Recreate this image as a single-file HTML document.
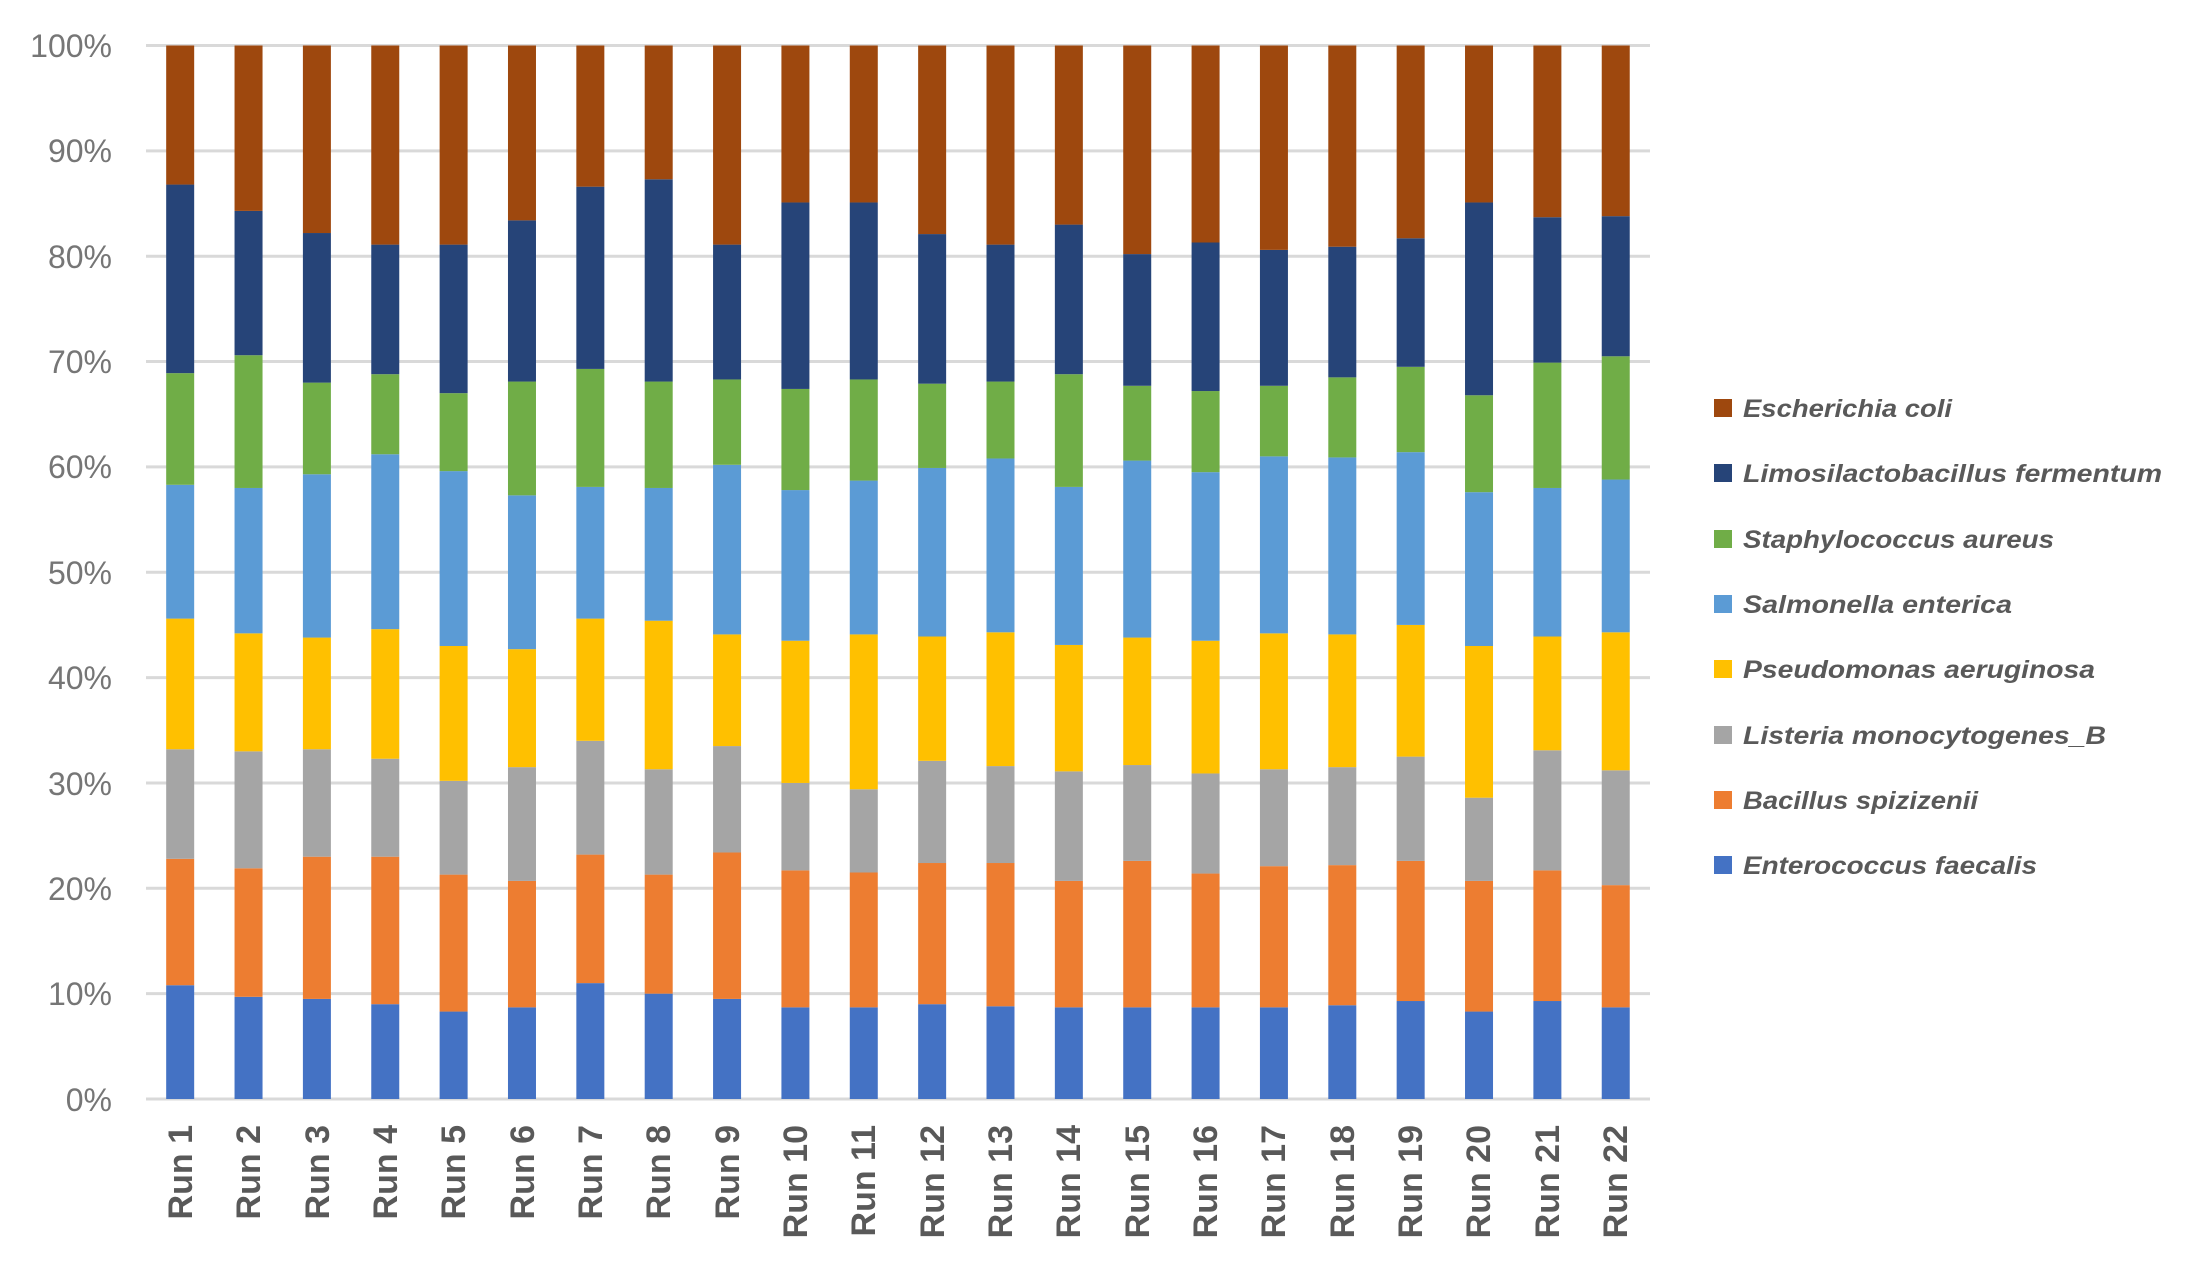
<!DOCTYPE html>
<html><head><meta charset="utf-8"><style>
html,body{margin:0;padding:0;background:#fff;}
svg{display:block;}
</style></head><body>
<svg id="c" width="2208" height="1274" viewBox="0 0 2208 1274" xmlns="http://www.w3.org/2000/svg">
<g id="grid" stroke="#d9d9d9" stroke-width="3"></g>
<g id="bars"></g>
<g font-family="Liberation Sans, sans-serif" font-size="32" fill="#767676" text-anchor="end">
<text x="112" y="57">100%</text>
<text x="112" y="162">90%</text>
<text x="112" y="268">80%</text>
<text x="112" y="373">70%</text>
<text x="112" y="478">60%</text>
<text x="112" y="584">50%</text>
<text x="112" y="689">40%</text>
<text x="112" y="795">30%</text>
<text x="112" y="900">20%</text>
<text x="112" y="1005">10%</text>
<text x="112" y="1111">0%</text>
</g>
<g font-family="Liberation Sans, sans-serif" font-size="34" font-weight="bold" fill="#595959" text-anchor="end">
<text transform="translate(192,1125) rotate(-90)">Run 1</text>
<text transform="translate(260,1125) rotate(-90)">Run 2</text>
<text transform="translate(329,1125) rotate(-90)">Run 3</text>
<text transform="translate(397,1125) rotate(-90)">Run 4</text>
<text transform="translate(465,1125) rotate(-90)">Run 5</text>
<text transform="translate(534,1125) rotate(-90)">Run 6</text>
<text transform="translate(602,1125) rotate(-90)">Run 7</text>
<text transform="translate(670,1125) rotate(-90)">Run 8</text>
<text transform="translate(739,1125) rotate(-90)">Run 9</text>
<text transform="translate(807,1125) rotate(-90)">Run 10</text>
<text transform="translate(875,1125) rotate(-90)">Run 11</text>
<text transform="translate(944,1125) rotate(-90)">Run 12</text>
<text transform="translate(1012,1125) rotate(-90)">Run 13</text>
<text transform="translate(1080,1125) rotate(-90)">Run 14</text>
<text transform="translate(1149,1125) rotate(-90)">Run 15</text>
<text transform="translate(1217,1125) rotate(-90)">Run 16</text>
<text transform="translate(1285,1125) rotate(-90)">Run 17</text>
<text transform="translate(1354,1125) rotate(-90)">Run 18</text>
<text transform="translate(1422,1125) rotate(-90)">Run 19</text>
<text transform="translate(1490,1125) rotate(-90)">Run 20</text>
<text transform="translate(1559,1125) rotate(-90)">Run 21</text>
<text transform="translate(1627,1125) rotate(-90)">Run 22</text>
</g>
<g>
<rect x="1714" y="399" width="18" height="18" fill="#9e480e"/>
<rect x="1714" y="464" width="18" height="18" fill="#264478"/>
<rect x="1714" y="530" width="18" height="18" fill="#70ad47"/>
<rect x="1714" y="595" width="18" height="18" fill="#5b9bd5"/>
<rect x="1714" y="660" width="18" height="18" fill="#ffc000"/>
<rect x="1714" y="726" width="18" height="18" fill="#a5a5a5"/>
<rect x="1714" y="791" width="18" height="18" fill="#ed7d31"/>
<rect x="1714" y="856" width="18" height="18" fill="#4472c4"/>
</g>
<g font-family="Liberation Sans, sans-serif" font-size="25" font-weight="bold" font-style="italic" fill="#595959" lengthAdjust="spacingAndGlyphs">
<text x="1743" y="417" textLength="209" lengthAdjust="spacingAndGlyphs">Escherichia coli</text>
<text x="1743" y="482" textLength="419" lengthAdjust="spacingAndGlyphs">Limosilactobacillus fermentum</text>
<text x="1743" y="548" textLength="311" lengthAdjust="spacingAndGlyphs">Staphylococcus aureus</text>
<text x="1743" y="613" textLength="269" lengthAdjust="spacingAndGlyphs">Salmonella enterica</text>
<text x="1743" y="678" textLength="352" lengthAdjust="spacingAndGlyphs">Pseudomonas aeruginosa</text>
<text x="1743" y="744" textLength="363" lengthAdjust="spacingAndGlyphs">Listeria monocytogenes_B</text>
<text x="1743" y="809" textLength="235" lengthAdjust="spacingAndGlyphs">Bacillus spizizenii</text>
<text x="1743" y="874" textLength="294" lengthAdjust="spacingAndGlyphs">Enterococcus faecalis</text>
</g>
</svg>
<script>
var NS="http://www.w3.org/2000/svg";
var y0=1099,y100=45.5,s=(y0-y100)/100;
var g=document.getElementById("grid");
for(var i=0;i<=10;i++){var l=document.createElementNS(NS,"line");var y=y0-i*10*s;
l.setAttribute("x1",146);l.setAttribute("x2",1650);l.setAttribute("y1",y);l.setAttribute("y2",y);g.appendChild(l);}
var cols=["#4472c4","#ed7d31","#a5a5a5","#ffc000","#5b9bd5","#70ad47","#264478","#9e480e"];
var d=[
[10.8,22.8,33.2,45.6,58.3,68.9,86.8],
[9.7,21.9,33.0,44.2,58.0,70.6,84.3],
[9.5,23.0,33.2,43.8,59.3,68.0,82.2],
[9.0,23.0,32.3,44.6,61.2,68.8,81.1],
[8.3,21.3,30.2,43.0,59.6,67.0,81.1],
[8.7,20.7,31.5,42.7,57.3,68.1,83.4],
[11.0,23.2,34.0,45.6,58.1,69.3,86.6],
[10.0,21.3,31.3,45.4,58.0,68.1,87.3],
[9.5,23.4,33.5,44.1,60.2,68.3,81.1],
[8.7,21.7,30.0,43.5,57.8,67.4,85.1],
[8.7,21.5,29.4,44.1,58.7,68.3,85.1],
[9.0,22.4,32.1,43.9,59.9,67.9,82.1],
[8.8,22.4,31.6,44.3,60.8,68.1,81.1],
[8.7,20.7,31.1,43.1,58.1,68.8,83.0],
[8.7,22.6,31.7,43.8,60.6,67.7,80.2],
[8.7,21.4,30.9,43.5,59.5,67.2,81.3],
[8.7,22.1,31.3,44.2,61.0,67.7,80.6],
[8.9,22.2,31.5,44.1,60.9,68.5,80.9],
[9.3,22.6,32.5,45.0,61.4,69.5,81.7],
[8.3,20.7,28.6,43.0,57.6,66.8,85.1],
[9.3,21.7,33.1,43.9,58.0,69.9,83.7],
[8.7,20.3,31.2,44.3,58.8,70.5,83.8]];
var b=document.getElementById("bars");
for(var r=0;r<22;r++){var cx=146+68.36*(r+0.5);var v=[0].concat(d[r]).concat([100]);
for(var k=0;k<8;k++){var ya=y0-v[k+1]*s,yb=y0-v[k]*s;var re=document.createElementNS(NS,"rect");
re.setAttribute("x",cx-14);re.setAttribute("width",28);re.setAttribute("y",ya);re.setAttribute("height",yb-ya);re.setAttribute("fill",cols[k]);b.appendChild(re);}}
</script>
</body></html>
